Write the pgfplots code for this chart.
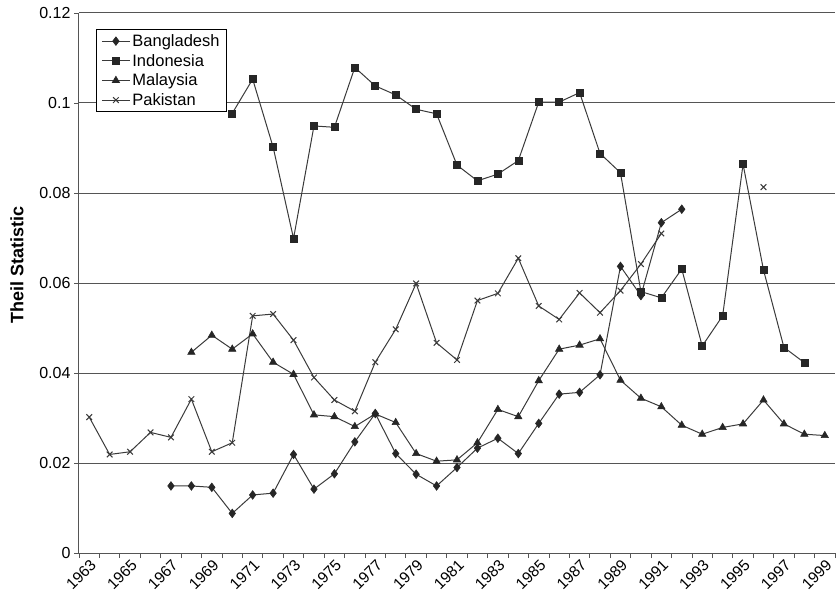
\documentclass[border=0pt]{standalone}
\usepackage{pgfplots}
\pgfplotsset{compat=1.18}
\usepackage{fontspec}
\setmainfont{Liberation Sans}
\definecolor{ln}{HTML}{3A3A3A}
\definecolor{mk}{HTML}{262626}
\definecolor{gr}{HTML}{555555}
\begin{document}
\begin{tikzpicture}
\path[use as bounding box] (-79pt,-45pt) rectangle (758pt,553pt);
\begin{axis}[
  scale only axis, width=756pt, height=540pt,
  xmin=1962.5, xmax=1999.5, ymin=0, ymax=0.12,
  axis lines*=left,
  axis line style={gr, line width=1pt},
  xtick={1963,1965,...,1999},
  xticklabels={1963,1965,1967,1969,1971,1973,1975,1977,1979,1981,1983,1985,1987,1989,1991,1993,1995,1997,1999},
  major x tick style={draw=none},
  minor xtick={1962.5,1963.5,...,1999.5},
  minor x tick style={gr, line width=0.9pt},
  minor tick length=5pt,
  major tick length=5pt,
  tick align=outside,
  ytick={0,0.02,0.04,0.06,0.08,0.1,0.12},
  yticklabels={0,0.02,0.04,0.06,0.08,0.1,0.12},
  major y tick style={gr, line width=0.9pt},
  ymajorgrids,
  grid style={gr, line width=1pt},
  /pgf/number format/assume math mode=true,
  xticklabel style={rotate=45, anchor=east, font=\fontsize{15.5}{17}\selectfont, inner sep=0pt, yshift=-6pt, xshift=0pt},
  yticklabel style={font=\fontsize{16}{18}\selectfont},
  ylabel={Theil Statistic},
  ylabel shift=9pt,
  ylabel style={font=\fontsize{18}{20}\selectfont\bfseries, at={(ticklabel cs:0.533)}},
  unbounded coords=jump,
  legend cell align=left,
  legend style={at={(0,1)}, anchor=north west, xshift=17pt, yshift=-16pt,
    draw=black, line width=0.8pt, font=\fontsize{16.5}{18}\selectfont, row sep=2.2pt,
    inner xsep=5pt, inner ysep=3pt},
  legend image code/.code={\draw[mark repeat=2,mark phase=2] plot coordinates {(0pt,0pt) (14pt,0pt) (28pt,0pt)};},
  every axis plot/.append style={ln, line width=1pt, mark options={mk, fill=mk, solid, line width=0.6pt}},
]
\addplot[ln, mark=diamond*, mark size=4.3pt] coordinates {
(1967,0.0149) (1968,0.0149) (1969,0.0146) (1970,0.0088) (1971,0.0129) (1972,0.0133)
(1973,0.0219) (1974,0.0142) (1975,0.0176) (1976,0.0247) (1977,0.0310) (1978,0.0221)
(1979,0.0175) (1980,0.0149) (1981,0.0190) (1982,0.0233) (1983,0.0255) (1984,0.0221)
(1985,0.0288) (1986,0.0353) (1987,0.0357) (1988,0.0396) (1989,0.0637) (1990,0.0572)
(1991,0.0734) (1992,0.0764)};
\addlegendentry{Bangladesh}
\addplot[ln, mark=square*, mark size=3.5pt] coordinates {
(1970,0.0977) (1971,0.1053) (1972,0.0902) (1973,0.0699) (1974,0.0949) (1975,0.0946)
(1976,0.1079) (1977,0.1038) (1978,0.1018) (1979,0.0986) (1980,0.0976) (1981,0.0862)
(1982,0.0827) (1983,0.0842) (1984,0.0872) (1985,0.1002) (1986,0.1002) (1987,0.1023)
(1988,0.0888) (1989,0.0845) (1990,0.0581) (1991,0.0567) (1992,0.0631) (1993,0.0460)
(1994,0.0527) (1995,0.0864) (1996,0.0629) (1997,0.0457) (1998,0.0423)};
\addlegendentry{Indonesia}
\addplot[ln, mark=triangle*, mark size=4.2pt] coordinates {
(1968,0.0446) (1969,0.0484) (1970,0.0453) (1971,0.0487) (1972,0.0424) (1973,0.0397)
(1974,0.0307) (1975,0.0303) (1976,0.0281) (1977,0.0309) (1978,0.0290) (1979,0.0221)
(1980,0.0204) (1981,0.0207) (1982,0.0245) (1983,0.0319) (1984,0.0303) (1985,0.0383)
(1986,0.0453) (1987,0.0462) (1988,0.0476) (1989,0.0384) (1990,0.0344) (1991,0.0325)
(1992,0.0284) (1993,0.0264) (1994,0.0279) (1995,0.0287) (1996,0.0340) (1997,0.0287)
(1998,0.0264) (1999,0.0261)};
\addlegendentry{Malaysia}
\addplot[ln, mark=x, mark size=4pt, mark options={ln, line width=1pt}] coordinates {
(1963,0.0302) (1964,0.0219) (1965,0.0225) (1966,0.0268) (1967,0.0257) (1968,0.0342)
(1969,0.0225) (1970,0.0245) (1971,0.0527) (1972,0.0531) (1973,0.0473) (1974,0.0390)
(1975,0.0340) (1976,0.0315) (1977,0.0424) (1978,0.0497) (1979,0.0599) (1980,0.0467)
(1981,0.0429) (1982,0.0561) (1983,0.0577) (1984,0.0655) (1985,0.0549) (1986,0.0519)
(1987,0.0578) (1988,0.0534) (1989,0.0583) (1990,0.0642) (1991,0.0710) (1992,nan)
(1996,0.0813)};
\addlegendentry{Pakistan}
\end{axis}
\end{tikzpicture}
\end{document}
